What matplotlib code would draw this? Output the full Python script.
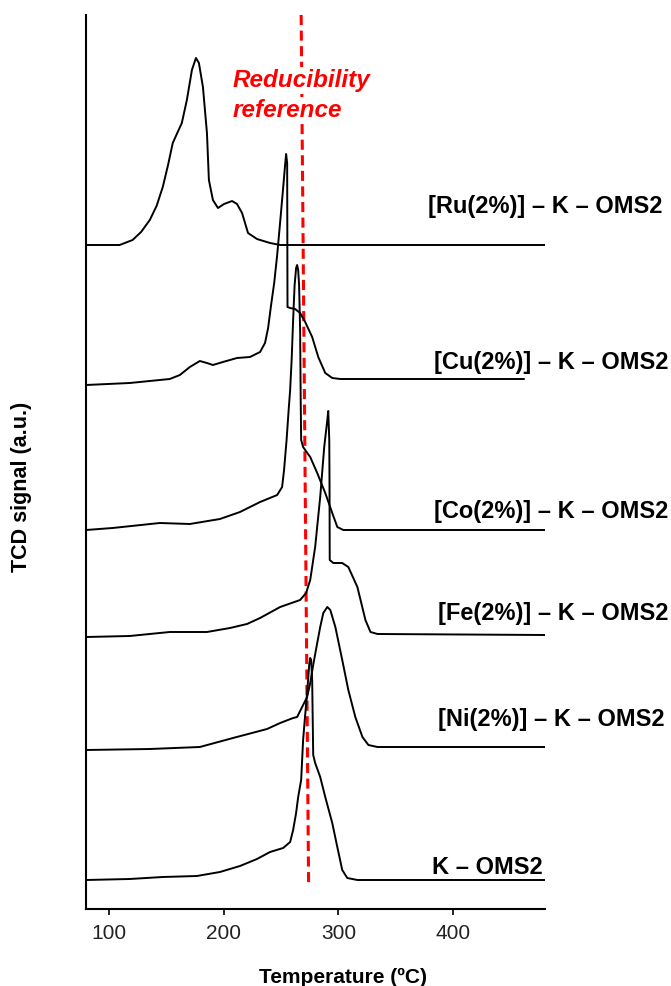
import matplotlib
matplotlib.use("Agg")
import matplotlib.pyplot as plt

plt.rcParams['font.family'] = ['Liberation Sans', 'DejaVu Sans']

# ---- data: temperature (ºC) and TCD signal (a.u., stacked with offsets) ----
ru_T = [80, 109.3, 120.6, 128.0, 135.6, 141.5, 146.9, 151.5, 155.6, 163.5, 167.9, 172.3, 175.8, 178.4, 181.9,
        185.4, 187.1, 190.6, 195.0, 200.3, 207.3, 211.6, 216.0, 221.2, 229.0, 240.4, 249.2, 480]
ru_s = [6.64, 6.64, 6.69, 6.77, 6.89, 7.03, 7.22, 7.44, 7.66, 7.86, 8.09, 8.39, 8.51, 8.46, 8.22,
        7.76, 7.29, 7.09, 7.01, 7.05, 7.08, 7.05, 6.96, 6.76, 6.70, 6.66, 6.64, 6.64]

cu_T = [80, 118.1, 153.0, 161.8, 170.5, 179.2, 185.4, 190.6, 199.3, 211.6, 222.9, 231.7,
        236.0, 238.7, 241.3, 244.0, 246.6, 249.2, 251.8, 253.5, 254.4, 255.3, 255.6, 257.9,
        262.2, 266.6, 271.0, 277.1, 282.4, 288.5, 294.6, 301.6, 461.5]
cu_s = [5.24, 5.26, 5.30, 5.34, 5.42, 5.48, 5.46, 5.44, 5.47, 5.51, 5.52, 5.57,
        5.66, 5.81, 6.04, 6.26, 6.54, 6.87, 7.21, 7.44, 7.55, 7.46, 6.02, 6.01,
        6.00, 5.96, 5.87, 5.72, 5.52, 5.36, 5.31, 5.30, 5.30]

co_T = [80, 103.2, 144.3, 170.5, 196.7, 214.2, 231.7, 246.6, 250.9, 252.6, 254.8, 256.6,
        257.9, 259.2, 260.5, 261.8, 263.1, 264.0, 264.9, 265.7, 266.6, 267.1, 267.5, 269.2,
        271.0, 275.4, 281.5, 288.5, 294.6, 299.0, 304.2, 480]
co_s = [3.79, 3.81, 3.86, 3.85, 3.90, 3.97, 4.07, 4.14, 4.22, 4.39, 4.69, 4.99,
        5.19, 5.49, 5.89, 6.24, 6.41, 6.44, 6.39, 6.24, 5.79, 5.09, 4.69, 4.62,
        4.59, 4.52, 4.36, 4.16, 3.96, 3.82, 3.79, 3.79]

fe_T = [80, 118.1, 153.0, 185.4, 205.5, 220.3, 231.7, 249.2, 266.6, 271.8, 275.4, 278.0,
        279.7, 284.1, 287.6, 290.3, 291.1, 292.0, 292.2, 292.4, 295.5, 303.3, 308.6, 316.5,
        323.5, 327.9, 334.0, 480]
fe_s = [2.72, 2.73, 2.77, 2.77, 2.81, 2.85, 2.91, 3.02, 3.09, 3.16, 3.29, 3.49,
        3.62, 4.12, 4.62, 4.89, 4.98, 4.69, 4.29, 3.49, 3.46, 3.46, 3.42, 3.22,
        2.89, 2.77, 2.75, 2.74]

ni_T = [80, 135.6, 179.2, 208.1, 237.8, 249.2, 260.5, 264.0, 266.6, 269.2, 272.7, 275.4,
        278.0, 281.5, 284.1, 286.8, 290.3, 292.9, 297.3, 303.3, 308.6, 314.7, 320.9, 326.1,
        334.0, 480]
ni_s = [1.59, 1.60, 1.62, 1.71, 1.80, 1.86, 1.91, 1.92, 1.98, 2.04, 2.12, 2.26,
        2.44, 2.66, 2.82, 2.96, 3.02, 2.99, 2.82, 2.49, 2.19, 1.92, 1.72, 1.64,
        1.62, 1.62]

k_T = [80, 118.1, 146.9, 176.6, 196.7, 214.2, 229.0, 240.4, 251.8, 257.9, 260.5, 263.1,
       264.9, 267.5, 269.2, 271.0, 272.7, 274.5, 275.4, 276.2, 277.1, 278.0, 279.7, 284.1,
       288.5, 294.6, 299.0, 303.3, 307.7, 316.5, 480]
k_s = [0.29, 0.30, 0.32, 0.33, 0.37, 0.43, 0.50, 0.57, 0.61, 0.67, 0.79, 0.96,
       1.12, 1.29, 1.69, 1.94, 2.16, 2.44, 2.51, 2.49, 2.29, 1.54, 1.46, 1.32,
       1.12, 0.86, 0.62, 0.39, 0.31, 0.29, 0.29]

series_T = [ru_T, cu_T, co_T, fe_T, ni_T, k_T]
series_s = [ru_s, cu_s, co_s, fe_s, ni_s, k_s]
labels = ["[Ru(2%)] – K – OMS2", "[Cu(2%)] – K – OMS2", "[Co(2%)] – K – OMS2",
          "[Fe(2%)] – K – OMS2", "[Ni(2%)] – K – OMS2", "K – OMS2"]

ref_T = [267.5, 274.0]
ref_s = [8.94, 0.23]

xticks = [100, 200, 300, 400]

# ---- layout (figure pixels) ----
W, H = 671, 986
fig = plt.figure(figsize=(W / 100, H / 100), dpi=100)
ax = fig.add_axes([86 / W, 1 - 909 / H, (545 - 86) / W, (909 - 15) / H])

for T, s in zip(series_T, series_s):
    ax.plot(T, s, color='black', lw=1.4, solid_joinstyle='round', antialiased=True)

ax.plot(ref_T, ref_s, color='#ff0000', lw=2.2, dashes=(3.3, 1.8), zorder=1)

ax.set_xlim(80, 480)
ax.set_ylim(0, 8.94)
ax.set_xticks(xticks)
ax.set_xticklabels([str(t) for t in xticks], fontsize=15, color='#222222')
ax.set_yticks([])
for side in ['top', 'right']:
    ax.spines[side].set_visible(False)
for side in ['left', 'bottom']:
    ax.spines[side].set_linewidth(1.5)
ax.tick_params(axis='x', direction='out', length=4.5, width=1.2, pad=6)

# series labels (right edge x px, baseline y px)
lab_pos = [(663, 213), (668, 369), (668, 518), (668, 620), (665, 726), (543, 874)]
for lab, (px, py) in zip(labels, lab_pos):
    fig.text(px / W, 1 - py / H, lab, ha='right', va='baseline',
             fontsize=17, fontweight='bold')

# reducibility reference text
for txt, py in [("Reducibility", 87.3), ("reference", 116.7)]:
    fig.text(233 / W, 1 - py / H, txt, ha='left', va='baseline', fontsize=17.5,
             fontweight='bold', fontstyle='italic', color='#ff0000',
             bbox=dict(facecolor='white', edgecolor='none', pad=1.5))

fig.text(343 / W, 1 - 983 / H, "Temperature (ºC)", ha='center', va='baseline',
         fontsize=15, fontweight='bold')
fig.text(22 / W, 1 - 487 / H, "TCD signal (a.u.)", ha='center', va='center',
         rotation=90, fontsize=15.5, fontweight='bold')

fig.savefig("out.png", dpi=100)
